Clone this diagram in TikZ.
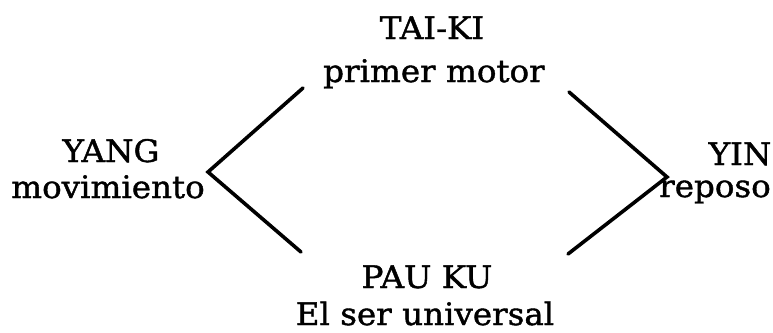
\documentclass[tikz,border=0pt]{standalone}
\usepackage{fontspec}
\setmainfont[FakeStretch=1.05,FakeBold=1.3]{DejaVu Serif}
\begin{document}
\begin{tikzpicture}[x=1pt,y=-1pt,
  lbl/.style={anchor=base,inner sep=0pt,font=\fontsize{31}{36}\selectfont},
  chev/.style={line width=3.6pt,line cap=round,line join=miter}]
\useasboundingbox (0,0) rectangle (773,332);
\node[lbl] (taiki) at (432,39) {TAI-KI};
\node[lbl] (primer) at (434,82) {primer motor};
\node[lbl] (yang) at (111,162) {YANG};
\node[lbl] (mov) at (108,198) {movimiento};
\node[lbl] (yin) at (740,165) {YIN};
\node[lbl] (rep) at (715,197) {reposo};
\node[lbl] (pauku) at (427,288) {PAU KU};
\node[lbl] (ser) at (425,325) {El ser universal};
\coordinate (lt) at (303,88);
\coordinate (lv) at (208,172);
\coordinate (lb) at (301,252);
\coordinate (rt) at (569,92);
\coordinate (rv) at (667,177);
\coordinate (rb) at (568,254);
\draw[chev] (lt) -- (lv) -- (lb);
\draw[chev] (rt) -- (rv) -- (rb);
\end{tikzpicture}
\end{document}
